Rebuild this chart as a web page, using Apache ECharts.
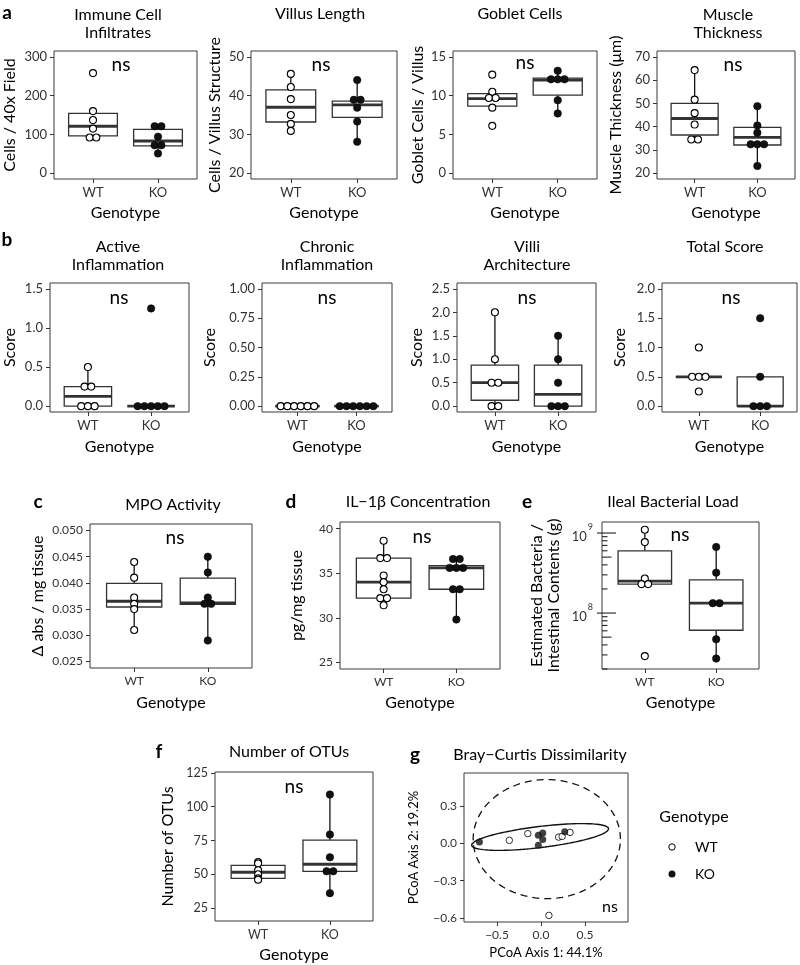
<!DOCTYPE html>
<html><head><meta charset="utf-8">
<script src="https://cdn.jsdelivr.net/npm/echarts@6/dist/echarts.min.js"></script>
<style>html,body{margin:0;padding:0;background:#fff}#chart{width:800px;height:965px}</style>
</head><body><div id="chart"></div>
<script>
// ================= DATA =================
const genotypes = ['WT', 'KO'];

// (a) Immune cell infiltrates  (box = [lower whisker, Q1, median, Q3, upper whisker])
const immuneWT = [258, 160, 137, 115, 92, 92];
const immuneKO = [121, 121, 94, 72, 72, 51];
const immuneBoxWT = [92, 96, 121, 154, 160];
const immuneBoxKO = [51, 70.5, 83, 113, 121];
const immuneTicks = [0, 100, 200, 300];

// (a) Villus length
const villusWT = [45.6, 42.2, 39.1, 35.0, 32.7, 30.9];
const villusKO = [44.0, 38.9, 38.9, 36.9, 33.3, 28.1];
const villusBoxWT = [30.9, 33.2, 37.0, 41.5, 45.6];
const villusBoxKO = [28.1, 34.4, 37.6, 38.6, 44.0];
const villusTicks = [20, 30, 40, 50];

// (a) Goblet cells
const gobletWT = [12.7, 10.5, 9.7, 9.7, 8.45, 6.1];
const gobletKO = [13.2, 12.1, 12.1, 12.1, 9.4, 7.7];
const gobletBoxWT = [8.45, 8.65, 9.6, 10.25, 10.5];
const gobletBoxKO = [7.7, 10.05, 12.0, 12.25, 13.2];
const gobletTicks = [0, 5, 10, 15];

// (a) Muscle thickness
const muscleWT = [64.3, 51.6, 45.8, 40.9, 34.5, 34.5];
const muscleKO = [48.8, 40.5, 37.4, 32.4, 32.4, 32.4, 23.1];
const muscleBoxWT = [34.5, 36.4, 43.5, 50.0, 64.3];
const muscleBoxKO = [23.1, 32.1, 35.4, 39.7, 48.8];
const muscleTicks = [20, 30, 40, 50, 60, 70];

// (b) Histology scores
const activeWT = [0.5, 0.25, 0.25, 0, 0, 0];
const activeKO = [1.25, 0, 0, 0, 0, 0];
const activeBoxWT = [0, 0, 0.125, 0.25, 0.5];
const activeBoxKO = [0, 0, 0, 0, 0];
const activeTicks = [0, 0.5, 1.0, 1.5];

const chronicWT = [0, 0, 0, 0, 0, 0];
const chronicKO = [0, 0, 0, 0, 0, 0];
const chronicBoxWT = [0, 0, 0, 0, 0];
const chronicBoxKO = [0, 0, 0, 0, 0];
const chronicTicks = [0, 0.25, 0.5, 0.75, 1.0];

const villiWT = [2.0, 1.0, 0.5, 0.5, 0, 0];
const villiKO = [1.5, 1.0, 0.5, 0, 0, 0];
const villiBoxWT = [0, 0.125, 0.5, 0.875, 2.0];
const villiBoxKO = [0, 0, 0.25, 0.875, 1.5];
const villiTicks = [0, 0.5, 1.0, 1.5, 2.0, 2.5];

const totalWT = [1.0, 0.5, 0.5, 0.5, 0.25];
const totalKO = [1.5, 0.5, 0, 0, 0];
const totalBoxWT = [0.5, 0.5, 0.5, 0.5, 0.5];
const totalBoxKO = [0, 0, 0, 0.5, 0.5];
const totalTicks = [0, 0.5, 1.0, 1.5, 2.0];

// (c) MPO activity
const mpoWT = [0.044, 0.041, 0.0372, 0.036, 0.035, 0.031];
const mpoKO = [0.045, 0.042, 0.0372, 0.036, 0.036, 0.029];
const mpoBoxWT = [0.031, 0.0354, 0.0365, 0.0399, 0.044];
const mpoBoxKO = [0.029, 0.0359, 0.0362, 0.0409, 0.045];
const mpoTicks = [0.025, 0.030, 0.035, 0.040, 0.045, 0.050];

// (d) IL-1β concentration
const il1bWT = [38.65, 36.7, 36.7, 34.75, 34.0, 33.2, 32.2, 32.2, 31.4];
const il1bKO = [36.6, 36.6, 35.6, 35.6, 35.6, 33.2, 33.2, 29.8];
const il1bBoxWT = [31.4, 32.2, 34.0, 36.7, 38.65];
const il1bBoxKO = [29.8, 33.2, 35.6, 35.85, 36.6];
const il1bTicks = [25, 30, 35, 40];

// (e) Ileal bacterial load
const loadWT = [1.1e9, 7.7e8, 2.7e8, 2.3e8, 2.3e8, 2.9e7];
const loadKO = [6.7e8, 3.2e8, 1.33e8, 1.33e8, 4.7e7, 2.7e7];
const loadBoxWT = [2.3e8, 2.3e8, 2.5e8, 6.0e8, 1.1e9];
const loadBoxKO = [2.7e7, 6.1e7, 1.33e8, 2.6e8, 6.7e8];

// (f) Number of OTUs
const otuWT = [59, 58, 53, 50, 47, 46];
const otuKO = [109, 79.4, 62.5, 52.2, 52.2, 36];
const otuBoxWT = [46, 47, 51.5, 56.6, 59];
const otuBoxKO = [36, 52.2, 57.4, 75.2, 109];
const otuTicks = [25, 50, 75, 100, 125];

// (g) Bray-Curtis PCoA
const pcoaWT1 = [-0.36, -0.15, 0.20, 0.24, 0.33, 0.09];
const pcoaWT2 = [0.024, 0.078, 0.05, 0.056, 0.088, -0.579];
const pcoaKO1 = [-0.70, -0.03, 0.02, 0.02, -0.03, 0.27];
const pcoaKO2 = [0.01, 0.064, 0.083, 0.03, -0.016, 0.094];
const ellipseWTcenter = [0.066, 0.034], ellipseWTa = [0.837, 0], ellipseWTb = [0, 0.478];
const ellipseKOcenter = [-0.01, 0.051], ellipseKOa = [0.78, 0.067], ellipseKOb = [0.014, -0.084];
const pcoaXTicks = [-0.5, 0, 0.5];
const pcoaYTicks = [-0.6, -0.3, 0, 0.3];

// ================= STYLE / LAYOUT =================
const FONT = 'Lato, "DejaVu Sans", sans-serif';
const TXT = '#000', TICK_TXT = '#333', LINE = '#333';
const DOT_GAP = 6.7;
const BOX_HALF = 0.375;

const grids = [], xAxes = [], yAxes = [], series = [], graphics = [];

function fmt(v, dec) { return (Math.abs(v) < 1e-12 ? 0 : v).toFixed(dec).replace('-', '\u2212'); }

function addText(str, x, y, size, o) {
  o = o || {};
  graphics.push({
    type: 'text', x: x, y: y, rotation: o.rotate ? Math.PI / 2 : 0, silent: true, z: 50,
    style: {
      text: str, fontSize: size, fontFamily: FONT, fontWeight: o.bold ? 'bold' : 'normal',
      fill: o.color || TXT, align: o.align || 'center', verticalAlign: 'middle',
      textAlign: o.align || 'center', textVerticalAlign: 'middle', lineHeight: o.lineHeight || size * 1.15
    }
  });
}

function spreadPoints(values, xc, stepUnits) {
  const count = new Map(), seen = new Map();
  values.forEach(v => count.set(v, (count.get(v) || 0) + 1));
  return values.map(v => {
    const n = count.get(v), i = seen.get(v) || 0; seen.set(v, i + 1);
    return [xc + (i - (n - 1) / 2) * stepUnits, v];
  });
}

function boxRender(params, api) {
  const x = api.value(0);
  const lo = api.value(1), q1 = api.value(2), med = api.value(3), q3 = api.value(4), hi = api.value(5);
  const tl = api.coord([x - BOX_HALF, q3]), br = api.coord([x + BOX_HALF, q1]);
  const mL = api.coord([x - BOX_HALF, med]), mR = api.coord([x + BOX_HALF, med]);
  const pHi = api.coord([x, hi]), pQ3 = api.coord([x, q3]), pQ1 = api.coord([x, q1]), pLo = api.coord([x, lo]);
  return {
    type: 'group', children: [
      {type: 'line', shape: {x1: pHi[0], y1: pHi[1], x2: pQ3[0], y2: pQ3[1]}, style: {stroke: '#111', lineWidth: 1.3}},
      {type: 'line', shape: {x1: pQ1[0], y1: pQ1[1], x2: pLo[0], y2: pLo[1]}, style: {stroke: '#111', lineWidth: 1.3}},
      {type: 'rect', shape: {x: tl[0], y: tl[1], width: br[0] - tl[0], height: br[1] - tl[1]}, style: {fill: '#fff', stroke: LINE, lineWidth: 1.3}},
      {type: 'line', shape: {x1: mL[0], y1: mL[1], x2: mR[0], y2: mR[1]}, style: {stroke: '#333', lineWidth: 2.8}}
    ]
  };
}

function gridFor(box) {
  return {left: box[0], top: box[1], width: box[2], height: box[3], show: true, borderColor: '#3a3a3a', borderWidth: 1, backgroundColor: 'transparent', containLabel: false};
}

function addPanel(p) {
  const gi = grids.length;
  const [L, T, W, H] = p.box;
  const xr = [0.4, 2.6];
  grids.push(gridFor(p.box));
  xAxes.push({
    type: 'value', gridIndex: gi, min: xr[0], max: xr[1], splitLine: {show: false},
    axisLine: {show: false, onZero: false},
    axisTick: {show: true, length: 4, lineStyle: {color: LINE, width: 1}, customValues: [1, 2]},
    axisLabel: {customValues: [1, 2], fontSize: p.tick, fontFamily: FONT, color: TICK_TXT, margin: 7,
      formatter: v => genotypes[Math.round(v) - 1]}
  });
  if (p.log) {
    yAxes.push({
      type: 'log', logBase: 10, gridIndex: gi, min: p.y[0], max: p.y[1], splitLine: {show: false},
      axisLine: {show: false, onZero: false}, axisTick: {show: false}, minorTick: {show: false},
      axisLabel: {fontFamily: FONT, color: TICK_TXT, margin: 9,
        formatter: v => { const e = Math.log10(v), r = Math.round(e); return Math.abs(e - r) < 1e-6 ? '{b|10}{s|' + r + '}' : ''; },
        rich: {
          b: {fontSize: 13, fontFamily: FONT, color: TICK_TXT, lineHeight: 20, verticalAlign: 'bottom'},
          s: {fontSize: 9, fontFamily: FONT, color: TICK_TXT, lineHeight: 20, verticalAlign: 'top', padding: [0, 0, 0, 1]}
        }}
    });
    // log ticks (annotation_logticks style) drawn through the axis scale
    const tickData = [];
    for (let d = 7; d <= 9; d++) for (let m = 1; m <= 9; m++) {
      const v = m * Math.pow(10, d);
      if (v >= p.y[0] && v <= p.y[1]) tickData.push([xr[0], v, m]);
    }
    series.push({
      type: 'custom', xAxisIndex: gi, yAxisIndex: gi, data: tickData, silent: true, clip: false, z: 4,
      renderItem: (params, api) => {
        const pt = api.coord([api.value(0), api.value(1)]);
        const m = api.value(2);
        const len = m === 1 ? 14 : (m === 5 ? 9.5 : 5.5);
        const out = m === 1 ? 5 : 0;
        return {type: 'line', shape: {x1: pt[0] - out, y1: pt[1], x2: pt[0] + len, y2: pt[1]}, style: {stroke: '#222', lineWidth: 1.1}};
      }
    });
  } else {
    yAxes.push({
      type: 'value', gridIndex: gi, min: p.y[0], max: p.y[1], splitLine: {show: false},
      axisLine: {show: false, onZero: false},
      axisTick: {show: true, length: 4, lineStyle: {color: LINE, width: 1}, customValues: p.ticks},
      axisLabel: {customValues: p.ticks, fontSize: p.tick, fontFamily: FONT, color: TICK_TXT, margin: 7,
        formatter: v => fmt(v, p.dec)}
    });
  }
  series.push({
    type: 'custom', xAxisIndex: gi, yAxisIndex: gi, silent: true, z: 2,
    data: [[1].concat(p.bwt), [2].concat(p.bko)], renderItem: boxRender
  });
  const step = DOT_GAP * (xr[1] - xr[0]) / W;
  series.push({
    type: 'scatter', name: genotypes[0], xAxisIndex: gi, yAxisIndex: gi, symbol: 'circle', symbolSize: 7, z: 5, silent: true,
    itemStyle: {color: '#fff', borderColor: '#000', borderWidth: 1.1, opacity: 1},
    data: spreadPoints(p.wt, 1, step)
  });
  series.push({
    type: 'scatter', name: genotypes[1], xAxisIndex: gi, yAxisIndex: gi, symbol: 'circle', symbolSize: 7.5, z: 5, silent: true,
    itemStyle: {color: '#111', borderColor: '#000', borderWidth: 0.5, opacity: 1},
    data: spreadPoints(p.ko, 2, step)
  });
  // texts
  p.title.forEach(t => addText(t[0], t[1], t[2], 16));
  addText(p.ytitle[0], p.ytitle[1], T + H / 2, 16, {rotate: true, lineHeight: 17});
  addText('ns', p.ns[0], p.ns[1], 19);
  addText('Genotype', L + W / 2, p.xtitle, 16);
  if (p.letter) addText(p.letter[0], p.letter[1], p.letter[2], 19, {bold: true, color: '#000'});
}

const panels = [
  {box: [54, 51, 143, 128], y: [-15, 315], wt: immuneWT, ko: immuneKO, bwt: immuneBoxWT, bko: immuneBoxKO, ticks: immuneTicks, dec: 0, tick: 13,
    title: [['Immune Cell', 118, 15], ['Infiltrates', 118, 33]], ytitle: ['Cells / 40x Field', 10], ns: [121, 65], xtitle: 213, letter: ['a', 7, 13]},
  {box: [251, 51, 146, 128], y: [18.5, 51.5], wt: villusWT, ko: villusKO, bwt: villusBoxWT, bko: villusBoxKO, ticks: villusTicks, dec: 0, tick: 13,
    title: [['Villus Length', 320, 14]], ytitle: ['Cells / Villus Structure', 215], ns: [321, 65], xtitle: 213},
  {box: [453, 51, 144, 128], y: [-0.75, 15.75], wt: gobletWT, ko: gobletKO, bwt: gobletBoxWT, bko: gobletBoxKO, ticks: gobletTicks, dec: 0, tick: 13,
    title: [['Goblet Cells', 520, 14]], ytitle: ['Goblet Cells / Villus', 418], ns: [525, 63], xtitle: 213},
  {box: [657, 51, 138, 128], y: [17.5, 72.5], wt: muscleWT, ko: muscleKO, bwt: muscleBoxWT, bko: muscleBoxKO, ticks: muscleTicks, dec: 0, tick: 13,
    title: [['Muscle', 728, 15], ['Thickness', 728, 33]], ytitle: ['Muscle Thickness (\u03bcm)', 616], ns: [733, 65], xtitle: 213},

  {box: [50, 283, 139, 129], y: [-0.075, 1.575], wt: activeWT, ko: activeKO, bwt: activeBoxWT, bko: activeBoxKO, ticks: activeTicks, dec: 1, tick: 13,
    title: [['Active', 118, 247], ['Inflammation', 118, 265]], ytitle: ['Score', 10], ns: [119, 298], xtitle: 447, letter: ['b', 7, 240]},
  {box: [262, 283, 130, 129], y: [-0.05, 1.05], wt: chronicWT, ko: chronicKO, bwt: chronicBoxWT, bko: chronicBoxKO, ticks: chronicTicks, dec: 2, tick: 13,
    title: [['Chronic', 327, 247], ['Inflammation', 327, 265]], ytitle: ['Score', 210], ns: [327, 298], xtitle: 447},
  {box: [457, 283, 139, 129], y: [-0.125, 2.625], wt: villiWT, ko: villiKO, bwt: villiBoxWT, bko: villiBoxKO, ticks: villiTicks, dec: 1, tick: 13,
    title: [['Villi', 527, 247], ['Architecture', 527, 265]], ytitle: ['Score', 417], ns: [527, 298], xtitle: 447},
  {box: [662, 283, 135, 129], y: [-0.1, 2.1], wt: totalWT, ko: totalKO, bwt: totalBoxWT, bko: totalBoxKO, ticks: totalTicks, dec: 1, tick: 13,
    title: [['Total Score', 725, 247]], ytitle: ['Score', 620], ns: [731, 298], xtitle: 447},

  {box: [90, 524, 162, 144], y: [0.02375, 0.05125], wt: mpoWT, ko: mpoKO, bwt: mpoBoxWT, bko: mpoBoxKO, ticks: mpoTicks, dec: 3, tick: 12,
    title: [['MPO Activity', 173, 505]], ytitle: ['\u0394 abs / mg tissue', 38], ns: [175, 538], xtitle: 703, letter: ['c', 38, 502]},
  {box: [340, 522, 160, 147], y: [24.25, 40.75], wt: il1bWT, ko: il1bKO, bwt: il1bBoxWT, bko: il1bBoxKO, ticks: il1bTicks, dec: 0, tick: 12,
    title: [['IL\u22121\u03b2 Concentration', 418, 502]], ytitle: ['pg/mg tissue', 297], ns: [422, 537], xtitle: 703, letter: ['d', 291, 502]},
  {box: [602, 522, 157, 147], log: true, y: [2.0e7, 1.373e9], wt: loadWT, ko: loadKO, bwt: loadBoxWT, bko: loadBoxKO, tick: 12,
    title: [['Ileal Bacterial Load', 673, 502]], ytitle: ['Estimated Bacteria /\nIntestinal Contents (g)', 545], ns: [680, 535], xtitle: 703, letter: ['e', 527, 502]},

  {box: [215, 772, 158, 149], y: [15.4, 125.7], wt: otuWT, ko: otuKO, bwt: otuBoxWT, bko: otuBoxKO, ticks: otuTicks, dec: 0, tick: 12.5,
    title: [['Number of OTUs', 289, 752]], ytitle: ['Number of OTUs', 168], ns: [294, 787], xtitle: 955, letter: ['f', 159, 752]}
];
panels.forEach(addPanel);

// ---- panel g: PCoA ----
(function () {
  const gi = grids.length;
  const box = [464, 773, 164, 149];
  grids.push(gridFor(box));
  xAxes.push({
    type: 'value', gridIndex: gi, min: -0.875, max: 0.989, splitLine: {show: false}, axisLine: {show: false, onZero: false},
    axisTick: {show: true, length: 4, lineStyle: {color: LINE}, customValues: pcoaXTicks},
    axisLabel: {customValues: pcoaXTicks, fontSize: 12, fontFamily: FONT, color: TICK_TXT, margin: 7, formatter: v => fmt(v, 1)}
  });
  yAxes.push({
    type: 'value', gridIndex: gi, min: -0.632, max: 0.565, splitLine: {show: false}, axisLine: {show: false, onZero: false},
    axisTick: {show: true, length: 4, lineStyle: {color: LINE}, customValues: pcoaYTicks},
    axisLabel: {customValues: pcoaYTicks, fontSize: 12, fontFamily: FONT, color: TICK_TXT, margin: 7, formatter: v => fmt(v, 1)}
  });
  function ellipse(c, a, b) {
    const pts = [];
    for (let i = 0; i <= 120; i++) {
      const t = 2 * Math.PI * i / 120;
      pts.push([c[0] + a[0] * Math.cos(t) + b[0] * Math.sin(t), c[1] + a[1] * Math.cos(t) + b[1] * Math.sin(t)]);
    }
    return pts;
  }
  series.push({type: 'line', xAxisIndex: gi, yAxisIndex: gi, data: ellipse(ellipseWTcenter, ellipseWTa, ellipseWTb), showSymbol: false, symbol: 'none', silent: true, z: 3,
    lineStyle: {color: '#111', width: 1.3, type: [7, 5]}});
  series.push({type: 'line', xAxisIndex: gi, yAxisIndex: gi, data: ellipse(ellipseKOcenter, ellipseKOa, ellipseKOb), showSymbol: false, symbol: 'none', silent: true, z: 3,
    lineStyle: {color: '#111', width: 1.4}});
  series.push({type: 'scatter', xAxisIndex: gi, yAxisIndex: gi, symbol: 'circle', symbolSize: 6.5, z: 5, silent: true,
    itemStyle: {color: '#fff', borderColor: '#000', borderWidth: 1}, data: pcoaWT1.map((v, i) => [v, pcoaWT2[i]])});
  series.push({type: 'scatter', xAxisIndex: gi, yAxisIndex: gi, symbol: 'circle', symbolSize: 7, z: 5, silent: true,
    itemStyle: {color: '#111'}, data: pcoaKO1.map((v, i) => [v, pcoaKO2[i]])});
  addText('g', 415, 755, 19, {bold: true, color: '#000'});
  addText('Bray\u2212Curtis Dissimilarity', 540, 755, 16);
  addText('PCoA Axis 2: 19.2%', 414, box[1] + box[3] / 2, 13, {rotate: true});
  addText('PCoA Axis 1: 44.1%', box[0] + box[2] / 2, 953, 13);
  addText('ns', 610, 907, 16);
  // legend
  addText('Genotype', 694, 817, 16);
  graphics.push({type: 'circle', shape: {cx: 672, cy: 847, r: 3.2}, style: {fill: '#fff', stroke: '#000', lineWidth: 1}, silent: true});
  graphics.push({type: 'circle', shape: {cx: 672, cy: 874, r: 3.5}, style: {fill: '#111'}, silent: true});
  addText(genotypes[0], 695, 847, 14, {align: 'left'});
  addText(genotypes[1], 695, 874, 14, {align: 'left'});
})();

const chart = echarts.init(document.getElementById('chart'), null, {renderer: 'canvas'});
chart.setOption({
  animation: false,
  backgroundColor: '#fff',
  textStyle: {fontFamily: FONT},
  grid: grids, xAxis: xAxes, yAxis: yAxes, series: series, graphic: graphics
});
</script></body></html>
